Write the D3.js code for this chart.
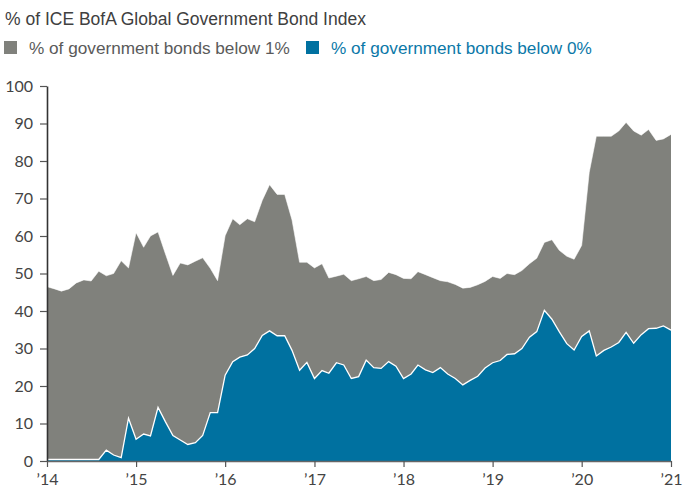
<!DOCTYPE html>
<html>
<head>
<meta charset="utf-8">
<script src="https://cdn.jsdelivr.net/npm/d3@7"></script>
<style>
  body { margin: 0; background: #fff; }
  text { font-family: "Liberation Sans", Arial, sans-serif; }
  .tick text { font-family: Lato, "Liberation Sans", sans-serif; }
</style>
</head>
<body>
<div class="canva"></div>
<script>
// monthly readings, Jan 2014 .. Jan 2021
const below1 = [46.5, 45.9, 45.3, 45.9, 47.5, 48.3, 48.0, 50.6, 49.4, 50.0, 53.4, 51.5,
  60.9, 57.0, 60.0, 61.1, 55.3, 49.5, 52.8, 52.3, 53.3, 54.2, 51.4, 48.1,
  60.1, 64.6, 63.0, 64.6, 63.8, 69.5, 73.7, 71.1, 71.1, 64.3, 53.0, 53.0,
  51.5, 52.6, 48.8, 49.3, 49.8, 48.1, 48.6, 49.2, 48.1, 48.4, 50.3, 49.7,
  48.7, 48.6, 50.5, 49.7, 48.9, 48.1, 47.8, 47.1, 46.1, 46.3, 47.0, 47.9,
  49.2, 48.7, 50.0, 49.7, 50.8, 52.6, 54.1, 58.3, 59.0, 56.2, 54.6, 53.8,
  57.5, 77.0, 86.6, 86.6, 86.6, 88.0, 90.3, 88.0, 86.9, 88.4, 85.5, 85.9,
  87.1];
const below0 = [0.4, 0.4, 0.4, 0.4, 0.4, 0.4, 0.4, 0.4, 2.9, 1.6, 0.9, 11.4,
  5.8, 7.2, 6.7, 14.3, 10.5, 6.8, 5.6, 4.4, 4.9, 6.8, 12.9, 12.9,
  22.9, 26.5, 27.7, 28.3, 30.0, 33.5, 34.7, 33.4, 33.4, 29.5, 24.2, 26.3,
  22.0, 24.1, 23.4, 26.2, 25.6, 22.0, 22.5, 26.9, 24.9, 24.7, 26.5, 25.3,
  22.0, 23.2, 25.6, 24.3, 23.6, 24.9, 23.2, 22.0, 20.3, 21.5, 22.6, 24.8,
  26.2, 26.8, 28.4, 28.6, 30.0, 33.0, 34.5, 40.2, 37.8, 34.5, 31.3, 29.6,
  33.2, 34.7, 28.0, 29.5, 30.4, 31.6, 34.3, 31.4, 33.7, 35.3, 35.4, 36.0,
  34.9];
const yTicks = [0, 10, 20, 30, 40, 50, 60, 70, 80, 90, 100];
const xYears = [2014, 2015, 2016, 2017, 2018, 2019, 2020, 2021];
const seriesNames = ["% of government bonds below 1%", "% of government bonds below 0%"];
const title = "% of ICE BofA Global Government Bond Index";

const months = d3.timeMonth.range(new Date(2014, 0, 1), new Date(2021, 0, 2));
const rows = months.map((d, i) => ({date: d, b1: below1[i], b0: below0[i]}));

const grey = "#80817c";
const blue = "#0071a0";

const svg = d3.select(".canva").append("svg")
  .attr("width", 685)
  .attr("height", 502);

const margin = {top: 86, right: 14, bottom: 41, left: 47};

const x = d3.scaleTime()
  .domain([new Date(2014, 0, 1), new Date(2021, 0, 1)])
  .range([margin.left, 685 - margin.right]);
const y = d3.scaleLinear()
  .domain([0, 100])
  .range([502 - margin.bottom, margin.top]);

// title + legend
svg.append("text")
  .attr("x", 5).attr("y", 25)
  .attr("font-size", 17.5)
  .attr("fill", "#404040")
  .text(title);

const legend = [
  {name: seriesNames[0], color: grey, text: "#5a5a5a", x: 4},
  {name: seriesNames[1], color: blue, text: "#0b78a8", x: 306}
];
legend.forEach(l => {
  svg.append("rect")
    .attr("x", l.x).attr("y", 41)
    .attr("width", 13).attr("height", 13)
    .attr("fill", l.color);
  svg.append("text")
    .attr("x", l.x + 25).attr("y", 53.5)
    .attr("font-size", 17.2)
    .attr("fill", l.text)
    .text(l.name);
});

// areas
const areaB1 = d3.area()
  .x(d => x(d.date))
  .y0(y(0))
  .y1(d => y(d.b1));
const areaB0 = d3.area()
  .x(d => x(d.date))
  .y0(y(0))
  .y1(d => y(d.b0));

svg.append("path")
  .datum(rows)
  .attr("d", areaB1)
  .attr("fill", grey);
svg.append("path")
  .datum(rows)
  .attr("d", d3.line().x(d => x(d.date)).y(d => y(d.b1)))
  .attr("fill", "none")
  .attr("stroke", "#fff")
  .attr("stroke-width", 0.8)
  .attr("stroke-opacity", 0.7);

svg.append("path")
  .datum(rows)
  .attr("d", areaB0)
  .attr("fill", blue);
svg.append("path")
  .datum(rows)
  .attr("d", d3.line().x(d => x(d.date)).y(d => y(d.b0)))
  .attr("fill", "none")
  .attr("stroke", "#fff")
  .attr("stroke-width", 1.3);

// axes
const yAxis = svg.append("g")
  .attr("transform", `translate(${margin.left},0)`)
  .call(d3.axisLeft(y).tickValues(yTicks).tickSize(7).tickSizeOuter(0).tickPadding(7));
yAxis.select(".domain").attr("stroke", "#333").attr("stroke-width", 1.6);
yAxis.selectAll(".tick line").attr("stroke", "#555").attr("stroke-width", 1.2);
yAxis.selectAll(".tick text").attr("font-size", 16).attr("fill", "#444");

const xAxis = svg.append("g")
  .attr("transform", `translate(0,${y(0)})`)
  .call(d3.axisBottom(x)
    .tickValues(xYears.map(yr => new Date(yr, 0, 1)))
    .tickFormat(d => "\u2019" + d3.timeFormat("%y")(d))
    .tickSize(6).tickSizeOuter(0).tickPadding(7));
xAxis.select(".domain").attr("stroke", "#666").attr("stroke-width", 1.5);
xAxis.selectAll(".tick line").attr("stroke", "#555").attr("stroke-width", 1.2);
xAxis.selectAll(".tick text").attr("font-size", 16).attr("fill", "#444");
</script>
</body>
</html>
